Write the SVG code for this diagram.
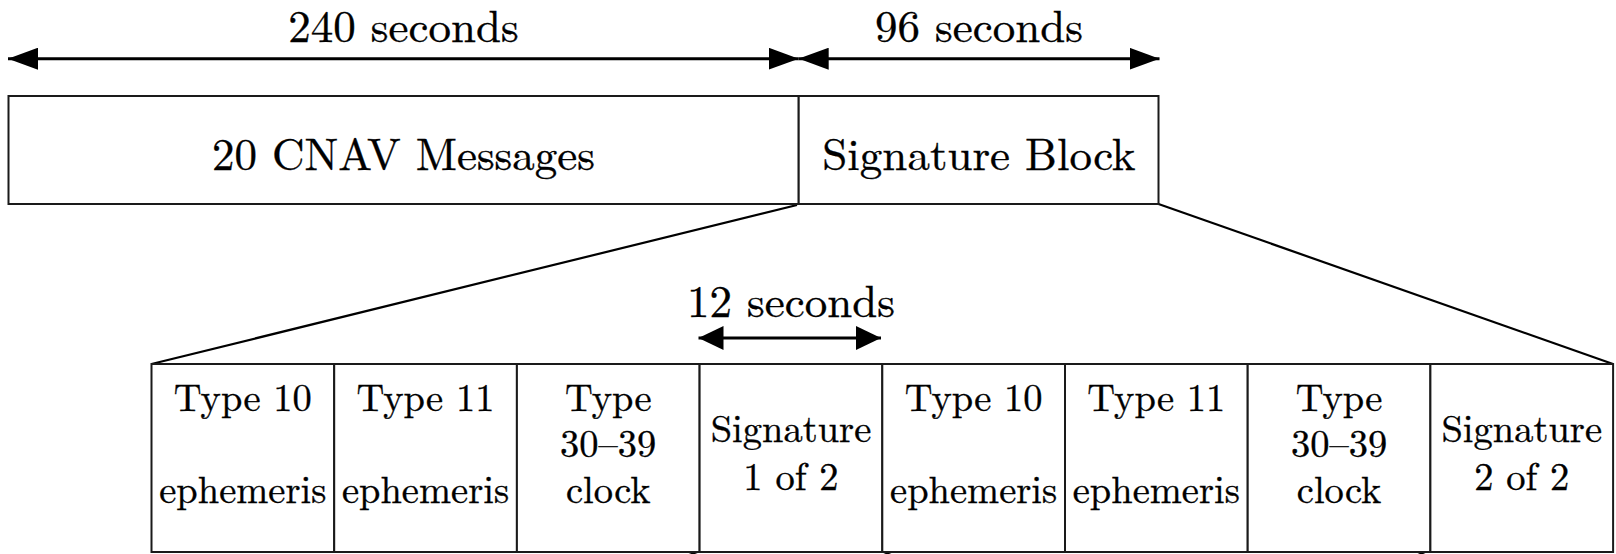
<svg xmlns="http://www.w3.org/2000/svg" width="1616" height="554" viewBox="0 0 1616 554">
<defs>
<style>
.box{fill:#fff;stroke:#1a1a1a;stroke-width:2}
.ln{stroke:#000;stroke-width:2.2;fill:none}
.ar{stroke:#000;stroke-width:3;fill:none}
.t{fill:#000;text-anchor:middle;stroke:#000;stroke-width:0.35}
</style>
<marker id="ah" viewBox="0 0 30 22" refX="30" refY="11" markerWidth="30" markerHeight="22" markerUnits="userSpaceOnUse" orient="auto-start-reverse">
<path d="M0,0 L30,11 L0,22 Z" fill="#000"/>
</marker>
<marker id="ahs" viewBox="0 0 25 24" refX="25" refY="12" markerWidth="25" markerHeight="24" markerUnits="userSpaceOnUse" orient="auto-start-reverse">
<path d="M0,0 L25,12 L0,24 Z" fill="#000"/>
</marker>
</defs>
<rect width="1616" height="554" fill="#fff"/>

<g id="connectors">
<line class="ar" x1="8" y1="58.7" x2="798.7" y2="58.7" marker-start="url(#ah)" marker-end="url(#ah)"/>
<line class="ar" x1="798.7" y1="58.7" x2="1159.5" y2="58.7" marker-start="url(#ah)" marker-end="url(#ah)"/>
<line class="ar" x1="698.5" y1="338" x2="881" y2="338" marker-start="url(#ahs)" marker-end="url(#ahs)"/>
<line class="ln" x1="797" y1="205" x2="151.5" y2="364"/>
<line class="ln" x1="1158.5" y1="204" x2="1613" y2="364"/>
<line class="ln" x1="700" y1="551" x2="689" y2="555"/>
<line class="ln" x1="879" y1="550" x2="891" y2="555"/>
<line class="ln" x1="1432" y1="549" x2="1418" y2="555"/>
</g>

<g id="label-240"><text class="t" font-family="Latin Modern Roman, CMU Serif, Liberation Serif, serif" font-size="45" x="403.5" y="42">240 seconds</text></g>
<g id="label-96"><text class="t" font-family="Latin Modern Roman, CMU Serif, Liberation Serif, serif" font-size="45" x="979" y="42">96 seconds</text></g>
<g id="label-12"><text class="t" font-family="Latin Modern Roman, CMU Serif, Liberation Serif, serif" font-size="45" x="791" y="317">12 seconds</text></g>

<g id="cnav-messages">
<rect class="box" x="8.5" y="96" width="790.2" height="108"/>
<text class="t" font-family="Latin Modern Roman, CMU Serif, Liberation Serif, serif" font-size="45" x="403.5" y="170">20 CNAV Messages</text>
</g>
<g id="signature-block">
<rect class="box" x="798.7" y="96" width="359.8" height="108"/>
<text class="t" font-family="Latin Modern Roman, CMU Serif, Liberation Serif, serif" font-size="45" x="979" y="170">Signature Block</text>
</g>

<g id="cell1">
<rect class="box" x="151.5" y="364" width="182.7" height="188"/>
<text class="t" font-family="Latin Modern Roman, CMU Serif, Liberation Serif, serif" font-size="38.5" x="242.85" y="411">Type 10</text>
<text class="t" font-family="Latin Modern Roman, CMU Serif, Liberation Serif, serif" font-size="38.5" x="242.85" y="503">ephemeris</text>
</g>
<g id="cell2">
<rect class="box" x="334.2" y="364" width="182.7" height="188"/>
<text class="t" font-family="Latin Modern Roman, CMU Serif, Liberation Serif, serif" font-size="38.5" x="425.55" y="411">Type 11</text>
<text class="t" font-family="Latin Modern Roman, CMU Serif, Liberation Serif, serif" font-size="38.5" x="425.55" y="503">ephemeris</text>
</g>
<g id="cell3">
<rect class="box" x="516.9" y="364" width="182.7" height="188"/>
<text class="t" font-family="Latin Modern Roman, CMU Serif, Liberation Serif, serif" font-size="38.5" x="608.25" y="411">Type</text>
<text class="t" font-family="Latin Modern Roman, CMU Serif, Liberation Serif, serif" font-size="38.5" x="608.25" y="457">30–39</text>
<text class="t" font-family="Latin Modern Roman, CMU Serif, Liberation Serif, serif" font-size="38.5" x="608.25" y="503">clock</text>
</g>
<g id="cell4">
<rect class="box" x="699.6" y="364" width="182.7" height="188"/>
<text class="t" font-family="Latin Modern Roman, CMU Serif, Liberation Serif, serif" font-size="38.5" x="790.95" y="442">Signature</text>
<text class="t" font-family="Latin Modern Roman, CMU Serif, Liberation Serif, serif" font-size="38.5" x="790.95" y="490">1 of 2</text>
</g>
<g id="cell5">
<rect class="box" x="882.3" y="364" width="182.7" height="188"/>
<text class="t" font-family="Latin Modern Roman, CMU Serif, Liberation Serif, serif" font-size="38.5" x="973.65" y="411">Type 10</text>
<text class="t" font-family="Latin Modern Roman, CMU Serif, Liberation Serif, serif" font-size="38.5" x="973.65" y="503">ephemeris</text>
</g>
<g id="cell6">
<rect class="box" x="1065" y="364" width="182.7" height="188"/>
<text class="t" font-family="Latin Modern Roman, CMU Serif, Liberation Serif, serif" font-size="38.5" x="1156.35" y="411">Type 11</text>
<text class="t" font-family="Latin Modern Roman, CMU Serif, Liberation Serif, serif" font-size="38.5" x="1156.35" y="503">ephemeris</text>
</g>
<g id="cell7">
<rect class="box" x="1247.7" y="364" width="182.7" height="188"/>
<text class="t" font-family="Latin Modern Roman, CMU Serif, Liberation Serif, serif" font-size="38.5" x="1339.05" y="411">Type</text>
<text class="t" font-family="Latin Modern Roman, CMU Serif, Liberation Serif, serif" font-size="38.5" x="1339.05" y="457">30–39</text>
<text class="t" font-family="Latin Modern Roman, CMU Serif, Liberation Serif, serif" font-size="38.5" x="1339.05" y="503">clock</text>
</g>
<g id="cell8">
<rect class="box" x="1430.4" y="364" width="182.7" height="188"/>
<text class="t" font-family="Latin Modern Roman, CMU Serif, Liberation Serif, serif" font-size="38.5" x="1521.75" y="442">Signature</text>
<text class="t" font-family="Latin Modern Roman, CMU Serif, Liberation Serif, serif" font-size="38.5" x="1521.75" y="490">2 of 2</text>
</g>
</svg>
